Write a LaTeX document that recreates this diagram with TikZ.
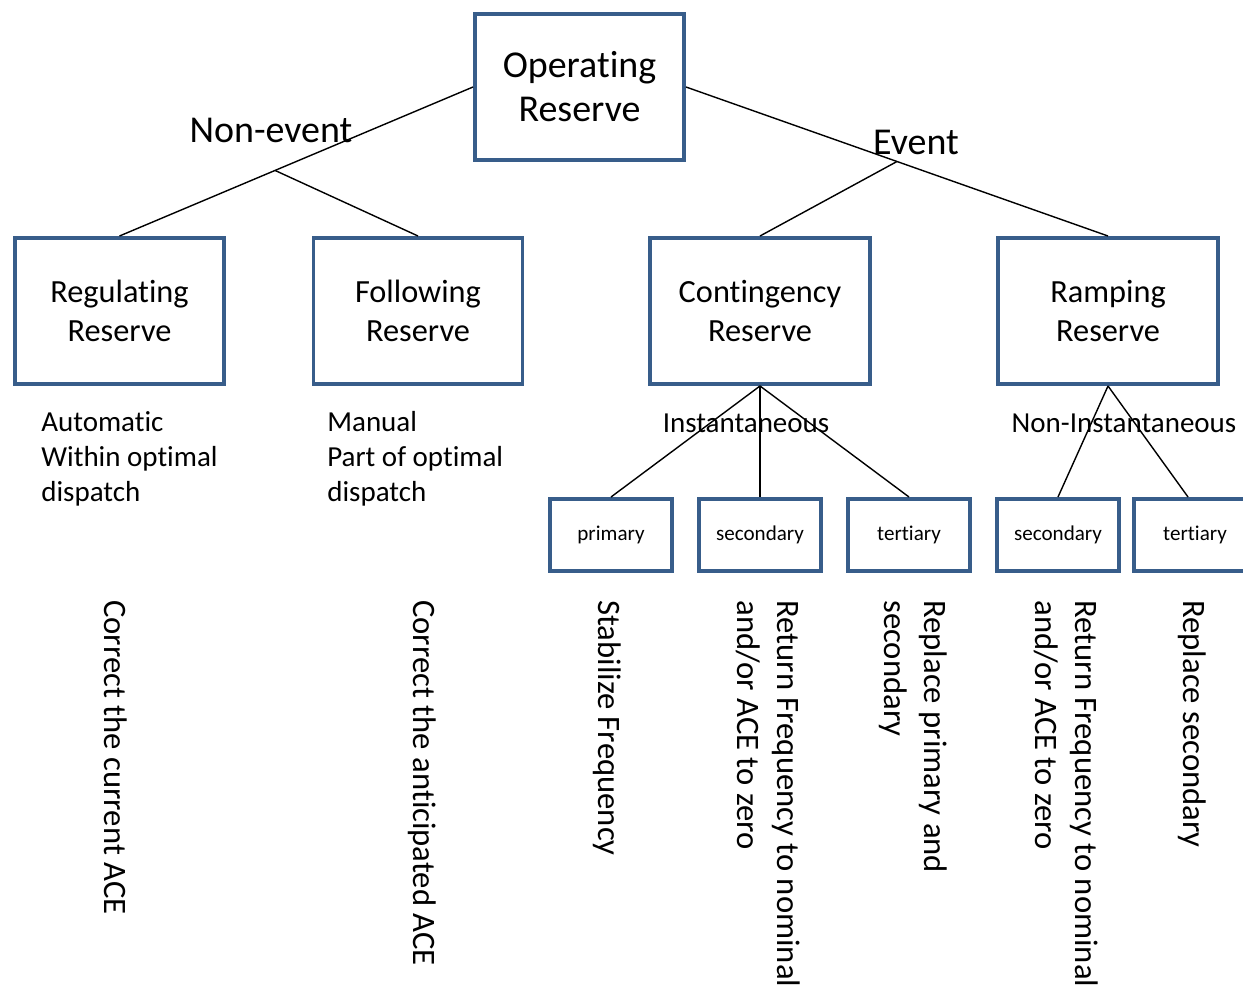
\documentclass[tikz,border=0pt]{standalone}
\usepackage{fontspec}
\setmainfont{Carlito}[Ligatures=NoCommon]
\usetikzlibrary{calc}
\usetikzlibrary{positioning}
\definecolor{boxblue}{RGB}{56,93,138}

\begin{document}
\begin{tikzpicture}[x=0.02cm,y=-0.02cm,
    box/.style={draw=boxblue,line width=2pt,align=center,inner sep=0pt},
    bigbox/.style={box,minimum width=4.19cm,minimum height=2.93cm,font=\fontsize{18.4}{22.2}\selectfont},
    smallbox/.style={box,minimum width=2.45cm,minimum height=1.45cm,font=\fontsize{12}{14}\selectfont},
    link/.style={line width=0.8pt},
    biglabel/.style={font=\fontsize{21.6}{25}\selectfont},
    note/.style={align=left,inner sep=0pt,font=\fontsize{16.5}{19.9}\selectfont},
    turned/.style={align=left,inner sep=0pt,anchor=north west,rotate=-90,font=\fontsize{18.6}{23.3}\selectfont}]
    \clip (0,0) rectangle (1243,989);
    % top box
    \node[bigbox,font=\fontsize{21.6}{25}\selectfont] (op) at (579.5,87) {Operating\\Reserve};
    % second row
    \node[bigbox] (reg) at (119.5,311) {Regulating\\Reserve};
    \node[bigbox] (fol) at (418,311) {Following\\Reserve};
    \node[bigbox,minimum width=4.41cm] (cont) at (760,311) {Contingency\\Reserve};
    \node[bigbox,minimum width=4.41cm] (ramp) at (1108,311) {Ramping\\Reserve};
    % third row
    \node[smallbox] (prim) at (611,535) {primary};
    \node[smallbox] (sec) at (760,535) {secondary};
    \node[smallbox] (ter) at (909,535) {tertiary};
    \node[smallbox] (rsec) at (1058,535) {secondary};
    \node[smallbox] (rter) at (1195,535) {tertiary};

    % branches
    \coordinate (nb) at ($(op.west)!0.56!(reg.north)$);
    \coordinate (eb) at ($(op.east)!0.5!(ramp.north)$);
    \draw[link] (op.west) -- (reg.north);
    \draw[link] (nb) -- (fol.north);
    \draw[link] (op.east) -- (ramp.north);
    \draw[link] (eb) -- (cont.north);
    \draw[link] (cont.south) -- (prim.north);
    \draw[link] (cont.south) -- (sec.north);
    \draw[link] (cont.south) -- (ter.north);
    \draw[link] (ramp.south) -- (rsec.north);
    \draw[link] (ramp.south) -- ([xshift=-0.14cm]rter.north);

    % labels
    \node[biglabel] (nonev) at (271,130) {Non-event};
    \node[biglabel] (ev) at (916,142) {Event};
    \node[note] (inst) at (746,423) {Instantaneous};
    \node[note] (noninst) at (1124,423) {Non-Instantaneous};
    \node[note,anchor=north west] (auto) at (41,411) {Automatic\\Within optimal\\dispatch};
    \node[note,anchor=north west] (man) at (327,411) {Manual\\Part of optimal\\dispatch};

    % rotated descriptions
    \node[turned] (curace) at (128,600) {Correct the current ACE};
    \node[turned] (antace) at (437,600) {Correct the anticipated ACE};
    \node[turned] (stab) at (622,600) {Stabilize Frequency};
    \node[turned] (ret) at (801,600) {Return Frequency to nominal\\and/or ACE to zero};
    \node[turned] (repl) at (948,600) {Replace primary and\\secondary};
    \node[turned] (rret) at (1099,600) {Return Frequency to nominal\\and/or ACE to zero};
    \node[turned] (rrepl) at (1207,600) {Replace secondary};
\end{tikzpicture}
\end{document}
